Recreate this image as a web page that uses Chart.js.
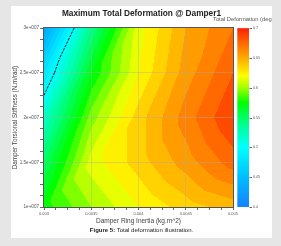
<!DOCTYPE html>
<html>
<head>
<meta charset="utf-8">
<script src="https://cdn.jsdelivr.net/npm/chart.js@4.4.1/dist/chart.umd.min.js"></script>
<style>
  html, body { margin: 0; padding: 0; background: #e6e6e6; }
  .card { position: absolute; left: 11px; top: 6px; width: 261px; height: 232px; background: #fff; overflow: hidden; }
  #chart { position: absolute; left: 0; top: 0; }
  .caption { position: absolute; left: 0; width: 261px; top: 221px; text-align: center;
             font: 6px "Liberation Sans", Arial, sans-serif; color: #222; white-space: nowrap; }
</style>
</head>
<body>
<div class="card">
  <canvas id="chart" width="261" height="232"></canvas>
  <div class="caption"><b>Figure 5:</b> Total deformation illustration.</div>
</div>
<script>
// grid of the simulation (x = ring inertia, y = torsional stiffness)
const inertia = [0.003, 0.0035, 0.004, 0.0045, 0.005];
const stiffness = [1e7, 1.5e7, 2e7, 2.5e7, 3e7];
// deformation[row for stiffness][col for inertia]
const deformation = [
    [0.575, 0.600, 0.620, 0.635, 0.645],
    [0.550, 0.615, 0.635, 0.655, 0.675],
    [0.520, 0.595, 0.635, 0.665, 0.690],
    [0.480, 0.570, 0.620, 0.655, 0.680],
    [0.430, 0.540, 0.615, 0.650, 0.670],
];
const xTickLabels = ["0.003", "0.0035", "0.004", "0.0045", "0.005"];
const yTickLabels = ["1e+007", "1.5e+007", "2e+007", "2.5e+007", "3e+007"];
const legendTicks = [0.4, 0.45, 0.5, 0.55, 0.6, 0.65, 0.7];
const legendTickLabels = ["0.4", "0.45", "0.5", "0.55", "0.6", "0.65", "0.7"];
const isoLevels = [0.5];
const bandStep = 0.01;
const colorStops = [
    [0.4, [20, 130, 255]],
    [0.45, [0, 190, 255]],
    [0.5, [0, 255, 255]],
    [0.54, [0, 255, 140]],
    [0.575, [0, 255, 0]],
    [0.6, [160, 255, 0]],
    [0.62, [255, 255, 0]],
    [0.635, [255, 210, 0]],
    [0.65, [255, 170, 0]],
    [0.675, [255, 105, 0]],
    [0.7, [255, 30, 0]],
];

const FONT = '"Liberation Sans", Arial, sans-serif';
const SUB = 4; // minor ticks per major step
const vMin = legendTicks[0];
const vMax = legendTicks[legendTicks.length - 1];

function withMinors(majors) {
    const out = [];
    for (let i = 0; i < majors.length - 1; i++) {
        for (let k = 0; k < SUB; k++) {
            out.push(majors[i] + (majors[i + 1] - majors[i]) * k / SUB);
        }
    }
    out.push(majors[majors.length - 1]);
    return out;
}

function colorAt(v) {
    if (v <= colorStops[0][0]) return colorStops[0][1];
    for (let i = 1; i < colorStops.length; i++) {
        if (v <= colorStops[i][0]) {
            const [a, ca] = colorStops[i - 1];
            const [b, cb] = colorStops[i];
            const t = (v - a) / (b - a);
            return ca.map((c, k) => Math.round(c + (cb[k] - c) * t));
        }
    }
    return colorStops[colorStops.length - 1][1];
}

function locate(arr, v) {
    let i = 0;
    while (i < arr.length - 2 && v > arr[i + 1]) i++;
    let t = (v - arr[i]) / (arr[i + 1] - arr[i]);
    return [i, Math.max(0, Math.min(1, t))];
}

// linear interpolation on triangles (cell split along its rising diagonal)
function fieldAt(xv, yv) {
    const [i, u] = locate(inertia, xv);
    const [j, v] = locate(stiffness, yv);
    const z00 = deformation[j][i], z10 = deformation[j][i + 1];
    const z01 = deformation[j + 1][i], z11 = deformation[j + 1][i + 1];
    if (u >= v) return z00 + u * (z10 - z00) + v * (z11 - z10);
    return z00 + v * (z01 - z00) + u * (z11 - z01);
}

const contourPlugin = {
    id: "contour",
    beforeDatasetsDraw(chart) {
        const { ctx, chartArea: a, scales: { x, y } } = chart;
        const x0 = Math.floor(a.left), y0 = Math.floor(a.top);
        const w = Math.ceil(a.right) - x0, h = Math.ceil(a.bottom) - y0;
        const img = ctx.createImageData(w, h);
        const nBands = Math.round((vMax - vMin) / bandStep);
        for (let py = 0; py < h; py++) {
            const yv = y.getValueForPixel(y0 + py + 0.5);
            for (let px = 0; px < w; px++) {
                const xv = x.getValueForPixel(x0 + px + 0.5);
                const f = fieldAt(xv, yv);
                let band = Math.floor((f - vMin) / bandStep);
                band = Math.max(0, Math.min(nBands - 1, band));
                const c = colorAt(vMin + (band + 0.5) * bandStep);
                const o = (py * w + px) * 4;
                img.data[o] = c[0];
                img.data[o + 1] = c[1];
                img.data[o + 2] = c[2];
                img.data[o + 3] = 255;
            }
        }
        ctx.putImageData(img, x0, y0);
    },
    afterDatasetsDraw(chart) {
        const { ctx, scales: { x, y } } = chart;
        ctx.save();
        ctx.strokeStyle = "#111";
        ctx.lineWidth = 1;
        ctx.setLineDash([2.5, 1.2]);
        isoLevels.forEach((lvl) => {
            const pts = [];
            for (let j = 0; j < stiffness.length - 1; j++) {
                for (let i = 0; i < inertia.length - 1; i++) {
                    const p00 = [inertia[i], stiffness[j], deformation[j][i]];
                    const p10 = [inertia[i + 1], stiffness[j], deformation[j][i + 1]];
                    const p01 = [inertia[i], stiffness[j + 1], deformation[j + 1][i]];
                    const p11 = [inertia[i + 1], stiffness[j + 1], deformation[j + 1][i + 1]];
                    [[p00, p10, p11], [p00, p01, p11]].forEach((tri) => {
                        const seg = [];
                        for (let k = 0; k < 3; k++) {
                            const p = tri[k], q = tri[(k + 1) % 3];
                            if ((p[2] - lvl) * (q[2] - lvl) < 0) {
                                const t = (lvl - p[2]) / (q[2] - p[2]);
                                seg.push([p[0] + (q[0] - p[0]) * t, p[1] + (q[1] - p[1]) * t]);
                            }
                        }
                        if (seg.length === 2) pts.push(seg);
                    });
                }
            }
            ctx.beginPath();
            pts.forEach(([p, q]) => {
                ctx.moveTo(x.getPixelForValue(p[0]), y.getPixelForValue(p[1]));
                ctx.lineTo(x.getPixelForValue(q[0]), y.getPixelForValue(q[1]));
            });
            ctx.stroke();
        });
        ctx.restore();
    },
    afterDraw(chart) {
        const { ctx, chartArea: a, scales: { y2 } } = chart;
        ctx.save();
        // frame of the plot
        ctx.strokeStyle = "#555";
        ctx.lineWidth = 1;
        ctx.strokeRect(Math.round(a.left) - 0.5, Math.round(a.top) - 0.5,
            Math.round(a.right - a.left) + 1, Math.round(a.bottom - a.top) + 1);
        // colour bar
        const top = y2.getPixelForValue(vMax), bot = y2.getPixelForValue(vMin);
        const g = ctx.createLinearGradient(0, bot, 0, top);
        colorStops.forEach(([v, c]) => g.addColorStop((v - vMin) / (vMax - vMin), "rgb(" + c.join(",") + ")"));
        ctx.fillStyle = g;
        ctx.fillRect(a.right + 4.3, top, 11.7, bot - top);
        ctx.strokeStyle = "#666";
        legendTicks.forEach((v) => {
            const py = Math.round(y2.getPixelForValue(v)) + 0.5;
            ctx.beginPath();
            ctx.moveTo(a.right + 16.5, py);
            ctx.lineTo(a.right + 19, py);
            ctx.stroke();
        });
        ctx.fillStyle = "#555";
        ctx.font = "5.8px " + FONT;
        ctx.textBaseline = "middle";
        ctx.fillText("Total Deformation (deg)", 202, 13);
        ctx.restore();
    },
};

const points = [];
stiffness.forEach((s, j) => inertia.forEach((r, i) => points.push({ x: r, y: s, v: deformation[j][i] })));

new Chart(document.getElementById("chart"), {
    type: "scatter",
    data: {
        datasets: [{ data: points, pointRadius: 0, pointHoverRadius: 0 }],
    },
    options: {
        responsive: false,
        animation: false,
        events: [],
        layout: { padding: { left: 0, right: 0, top: 0, bottom: 11 } },
        plugins: {
            legend: { display: false },
            tooltip: { enabled: false },
            title: {
                display: true,
                text: "Maximum Total Deformation @ Damper1",
                color: "#222",
                font: { family: FONT, size: 8.3, weight: "bold", lineHeight: 1 },
                padding: { top: 0, bottom: 10.2 },
            },
        },
        scales: {
            x: {
                type: "linear",
                position: "bottom",
                min: inertia[0],
                max: inertia[inertia.length - 1],
                afterBuildTicks: (s) => { s.ticks = withMinors(inertia).map((v) => ({ value: v })); },
                afterFit: (s) => { s.height = 20; },
                border: { display: false },
                grid: {
                    z: 1,
                    color: (c) => (c.index % SUB === 0 && c.index > 0 && c.index < (inertia.length - 1) * SUB)
                        ? "rgba(170,170,170,0.4)" : "rgba(0,0,0,0)",
                    tickColor: "#666",
                    tickLength: 3,
                },
                ticks: {
                    autoSkip: false,
                    maxRotation: 0,
                    minRotation: 0,
                    padding: 1,
                    color: "#555",
                    font: { family: FONT, size: 4 },
                    callback: (v, i) => (i % SUB === 0 ? xTickLabels[i / SUB] : ""),
                },
                title: {
                    display: true,
                    text: "Damper Ring Inertia (kg.m^2)",
                    color: "#444",
                    font: { family: FONT, size: 6.5, lineHeight: 1.2 },
                    padding: { top: 0, bottom: 2 },
                },
            },
            y: {
                type: "linear",
                position: "left",
                min: stiffness[0],
                max: stiffness[stiffness.length - 1],
                afterBuildTicks: (s) => { s.ticks = withMinors(stiffness).map((v) => ({ value: v })); },
                afterFit: (s) => { s.width = 33; },
                border: { display: false },
                grid: {
                    z: 1,
                    color: (c) => (c.index % SUB === 0 && c.index > 0 && c.index < (stiffness.length - 1) * SUB)
                        ? "rgba(170,170,170,0.4)" : "rgba(0,0,0,0)",
                    tickColor: "#666",
                    tickLength: 4,
                },
                ticks: {
                    autoSkip: false,
                    padding: 1,
                    color: "#555",
                    font: { family: FONT, size: 4.6 },
                    callback: (v, i) => (i % SUB === 0 ? yTickLabels[i / SUB] : ""),
                },
                title: {
                    display: true,
                    text: "Damper Torsional Stiffness (N.m/rad)",
                    color: "#444",
                    font: { family: FONT, size: 6.3, lineHeight: 1.2 },
                    padding: { top: 0.2, bottom: 0 },
                },
            },
            y2: {
                type: "linear",
                position: "right",
                min: vMin,
                max: vMax,
                afterBuildTicks: (s) => { s.ticks = legendTicks.map((v) => ({ value: v })); },
                afterFit: (s) => { s.width = 39; },
                border: { display: false },
                grid: { drawOnChartArea: false, drawTicks: false },
                ticks: {
                    autoSkip: false,
                    padding: 20,
                    color: "#555",
                    font: { family: FONT, size: 3.6 },
                    callback: (v, i) => legendTickLabels[i],
                },
            },
        },
    },
    plugins: [contourPlugin],
});
</script>
</body>
</html>
